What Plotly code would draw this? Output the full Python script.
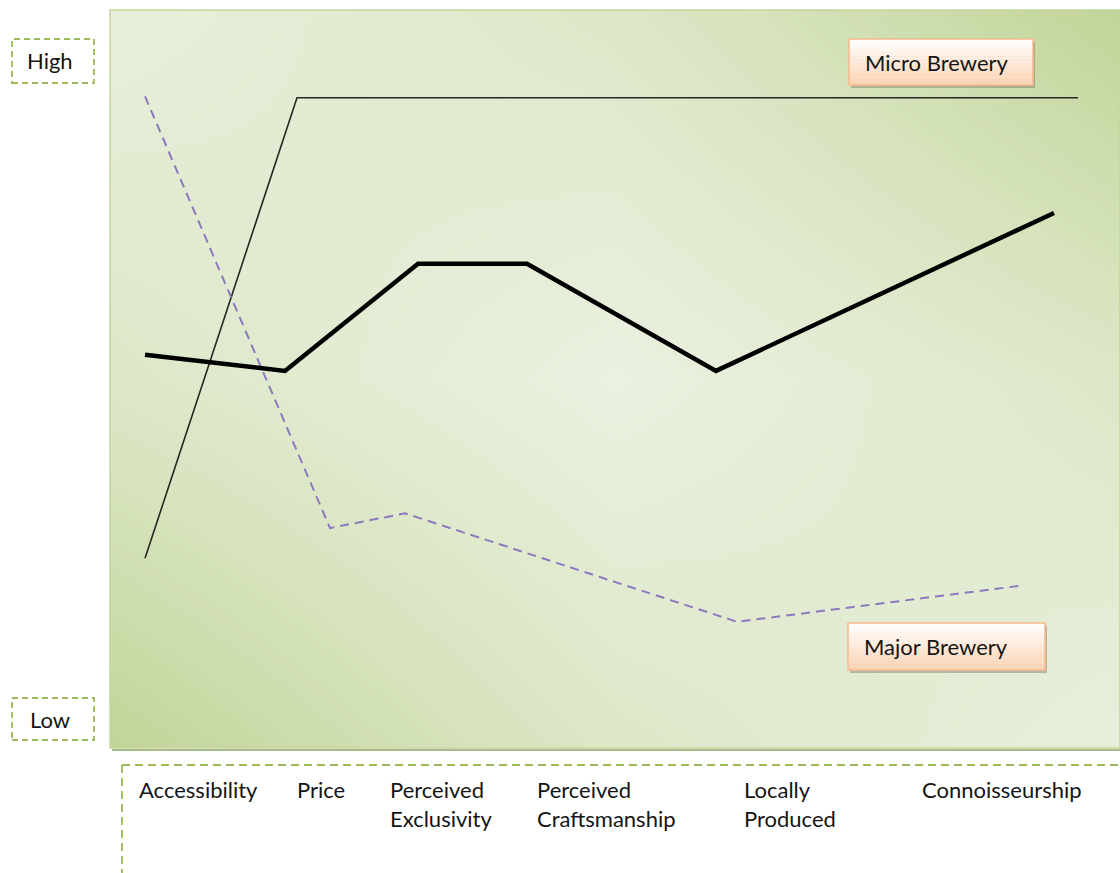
import plotly.graph_objects as go

# ---------------- data ----------------
# x: position along the attribute axis (0-101), y: rating (0 = Low, 100 = High)
micro_x = [3.5, 18.7, 96.8]
micro_y = [25.7, 88.1, 88.1]

thick_x = [3.5, 17.5, 30.8, 41.7, 60.6, 94.4]
thick_y = [53.3, 51.1, 65.6, 65.6, 51.1, 72.5]

major_x = [3.5, 22.0, 29.5, 62.7, 91.1]
major_y = [88.3, 29.8, 31.8, 17.1, 22.0]

categories = ["Accessibility", "Price", "Perceived Exclusivity",
              "Perceived Craftsmanship", "Locally Produced", "Connoisseurship"]
category_pos = [2.7, 18.5, 27.8, 42.5, 63.2, 81.0]

# background shading (0 = dark green, 1 = light)
bg_x = [0, 50.5, 101]
bg_y = [0, 50, 100]
bg_z = [[0.0, 0.62, 0.93],
        [0.62, 1.0, 0.62],
        [0.93, 0.62, 0.0]]

W, H = 1120, 873
L, R, T, B = 110, 0, 10, 125
PW, PH = W - L - R, H - T - B


def PX(px):
    return (px - L) / PW


def PY(py):
    return (H - B - py) / PH


FONT = "Lato"
FS = 22
TXT = "#151515"

fig = go.Figure()

fig.add_trace(go.Heatmap(
    x=bg_x, y=bg_y, z=bg_z, zsmooth="best", showscale=False,
    colorscale=[[0, "#c1d498"], [0.45, "#d6e3bc"], [1, "#eaf1e0"]],
    zmin=0, zmax=1, hoverinfo="skip"))

fig.add_trace(go.Scatter(x=micro_x, y=micro_y, mode="lines", name="Micro Brewery",
                         line=dict(color="#262626", width=1.6)))
fig.add_trace(go.Scatter(x=major_x, y=major_y, mode="lines", name="Major Brewery",
                         line=dict(color="#8f78bd", width=2, dash="9px,6px")))
fig.add_trace(go.Scatter(x=thick_x, y=thick_y, mode="lines", name="Position",
                         line=dict(color="#000000", width=4.5)))

shapes = []
annotations = []

# plot frame + shadow
shapes.append(dict(type="line", xref="paper", yref="paper", x0=PX(112), x1=PX(1120),
                   y0=PY(750), y1=PY(750), line=dict(color="#a9b98c", width=2), layer="below"))
shapes.append(dict(type="rect", xref="paper", yref="paper", x0=0, x1=1, y0=0, y1=1,
                   line=dict(color="#c3d69b", width=1.5)))

# High / Low dashed boxes
for (y0, y1, txt) in [(39, 83, "High"), (698, 740, "Low")]:
    shapes.append(dict(type="rect", xref="paper", yref="paper",
                       x0=PX(12), x1=PX(94), y0=PY(y1), y1=PY(y0),
                       line=dict(color="#9bbb59", width=1.8, dash="6px,4px")))
    annotations.append(dict(text=txt, xref="paper", yref="paper",
                            x=PX(50), y=PY((y0 + y1) / 2), showarrow=False,
                            font=dict(family=FONT, size=FS, color=TXT),
                            xanchor="center", yanchor="middle"))

# bottom dashed frame for categories
shapes.append(dict(type="line", xref="paper", yref="paper", x0=PX(122), x1=PX(1120),
                   y0=PY(765), y1=PY(765),
                   line=dict(color="#9bbb59", width=1.8, dash="8px,5px")))
shapes.append(dict(type="line", xref="paper", yref="paper", x0=PX(122), x1=PX(122),
                   y0=PY(765), y1=PY(873),
                   line=dict(color="#9bbb59", width=1.8, dash="8px,5px")))

# category labels
for cat, pos in zip(categories, category_pos):
    words = cat.split(" ")
    lines = [cat] if len(words) == 1 else [words[0], " ".join(words[1:])]
    for i, ln in enumerate(lines):
        annotations.append(dict(text=ln, xref="x", yref="paper", x=pos,
                                y=PY(789 + 29 * i), showarrow=False,
                                xanchor="left", yanchor="middle",
                                font=dict(family=FONT, size=FS, color=TXT)))


# series label boxes with vertical gradient
def label_box(x0, x1, y0, y1, text):
    top = (255, 255, 255)
    bot = (251, 212, 180)
    n = 16
    # shadow
    shapes.append(dict(type="rect", xref="paper", yref="paper",
                       x0=PX(x0 + 2), x1=PX(x1 + 2), y0=PY(y1 + 3), y1=PY(y0 + 3),
                       line=dict(width=0), fillcolor="rgba(120,120,100,0.45)"))
    for k in range(n):
        t = (k + 0.5) / n
        c = tuple(int(round(top[j] + (bot[j] - top[j]) * t)) for j in range(3))
        ya = y0 + (y1 - y0) * k / n
        yb = y0 + (y1 - y0) * (k + 1) / n
        shapes.append(dict(type="rect", xref="paper", yref="paper",
                           x0=PX(x0), x1=PX(x1), y0=PY(yb + 0.5), y1=PY(ya),
                           line=dict(width=0), fillcolor="rgb(%d,%d,%d)" % c))
    shapes.append(dict(type="rect", xref="paper", yref="paper",
                       x0=PX(x0), x1=PX(x1), y0=PY(y1), y1=PY(y0),
                       line=dict(color="#f6b98c", width=1.5)))
    annotations.append(dict(text=text, xref="paper", yref="paper",
                            x=PX(x0 + 14), y=PY((y0 + y1) / 2), showarrow=False,
                            xanchor="left", yanchor="middle",
                            font=dict(family=FONT, size=FS, color=TXT)))


label_box(849, 1033, 39, 85, "Micro Brewery")
label_box(848, 1045, 623, 670, "Major Brewery")

fig.update_layout(
    width=W, height=H,
    margin=dict(l=L, r=R, t=T, b=B),
    paper_bgcolor="white", plot_bgcolor="white",
    showlegend=False,
    xaxis=dict(range=[0, 101], visible=False, fixedrange=True),
    yaxis=dict(range=[0, 100], visible=False, fixedrange=True),
    shapes=shapes, annotations=annotations,
)

fig.write_html("out.html")
